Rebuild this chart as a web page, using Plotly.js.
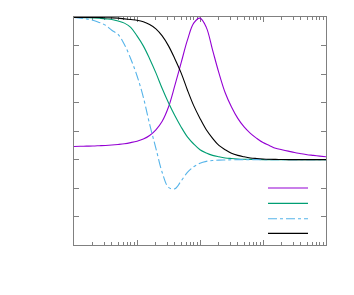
<!DOCTYPE html>
<html><head><meta charset="utf-8">
<script src="https://cdn.plot.ly/plotly-3.0.1.min.js"></script>
<style>html,body{margin:0;padding:0;background:#fff}#c{width:354px;height:295px}</style>
</head><body><div id="c"></div>
<script>
// x values: 10^(-2 + 0.1*i), i = 0..40
const logx = [-2,-1.9,-1.8,-1.7,-1.6,-1.5,-1.4,-1.3,-1.2,-1.1,-1,-0.9,-0.8,-0.7,-0.6,-0.5,-0.4,-0.3,-0.2,-0.1,0,0.1,0.2,0.3,0.4,0.5,0.6,0.7,0.8,0.9,1,1.1,1.2,1.3,1.4,1.5,1.6,1.7,1.8,1.9,2];
const xs = logx.map(v => Math.pow(10, v));
const purple = [0.093,0.094,0.095,0.096,0.098,0.10,0.103,0.107,0.112,0.12,0.13,0.145,0.17,0.21,0.27,0.37,0.52,0.68,0.84,0.96,0.995,0.93,0.77,0.61,0.47,0.37,0.29,0.23,0.185,0.15,0.12,0.10,0.08,0.07,0.06,0.05,0.042,0.035,0.03,0.025,0.02];
const green = [1.0,0.999,0.998,0.997,0.995,0.99,0.985,0.975,0.96,0.93,0.87,0.80,0.71,0.61,0.50,0.40,0.31,0.23,0.16,0.11,0.07,0.047,0.03,0.02,0.012,0.008,0.005,0.003,0.002,0.001,0,0,0,0,0,0,0,0,0,0,0];
const cyan = [1.0,0.995,0.99,0.98,0.965,0.945,0.91,0.88,0.81,0.71,0.59,0.44,0.25,0.08,-0.09,-0.195,-0.205,-0.15,-0.09,-0.05,-0.025,-0.012,-0.006,-0.003,-0.002,-0.001,0,0,0,0,0,0,0,0,0,0,0,0,0,0,0];
const black = [1,1,1,1,0.999,0.998,0.997,0.995,0.99,0.985,0.98,0.97,0.95,0.92,0.87,0.80,0.71,0.61,0.49,0.38,0.29,0.21,0.15,0.10,0.07,0.045,0.03,0.02,0.012,0.008,0.005,0.003,0.002,0.001,0,0,0,0,0,0,0];

const series = [
  {y: purple, color:'#9400d3', dash:'solid', lg:'legend'},
  {y: green, color:'#009e73', dash:'solid', lg:'legend2'},
  {y: cyan, color:'#56b4e9', dash:'dashdot', lg:'legend3'},
  {y: black, color:'#000000', dash:'solid', lg:'legend4'}
];
const traces = series.map(s => ({
  x: xs, y: s.y, type:'scatter', mode:'lines', name:'',
  line:{color:s.color, width:1.1, dash:s.dash, shape:'spline', smoothing:1},
  legend: s.lg, showlegend:true
}));
const axc = '#808080';
function lg(y){ return {x:0.75, y:y, xanchor:'left', yanchor:'middle', bgcolor:'rgba(0,0,0,0)', borderwidth:0, itemwidth:40, font:{size:10}}; }
const layout = {
  width:354, height:295,
  margin:{l:74, r:28, t:17, b:50},
  paper_bgcolor:'#fff', plot_bgcolor:'#fff',
  showlegend:true,
  legend: lg(0.2498), legend2: lg(0.1825), legend3: lg(0.1152), legend4: lg(0.0512),
  xaxis:{type:'log', range:[-2,2], dtick:1, showticklabels:false, showgrid:false, zeroline:false, layer:'below traces',
    showline:true, linecolor:axc, linewidth:1, mirror:'ticks', ticks:'inside', ticklen:5, tickcolor:axc,
    minor:{dtick:'D1', ticks:'inside', ticklen:3, tickcolor:axc, showgrid:false}},
  yaxis:{range:[-0.6,1.003], dtick:0.2, showticklabels:false, showgrid:false, zeroline:false, layer:'below traces',
    showline:true, linecolor:axc, linewidth:1, mirror:'ticks', ticks:'inside', ticklen:5, tickcolor:axc}
};
Plotly.newPlot('c', traces, layout, {staticPlot:true, displayModeBar:false});
</script></body></html>
